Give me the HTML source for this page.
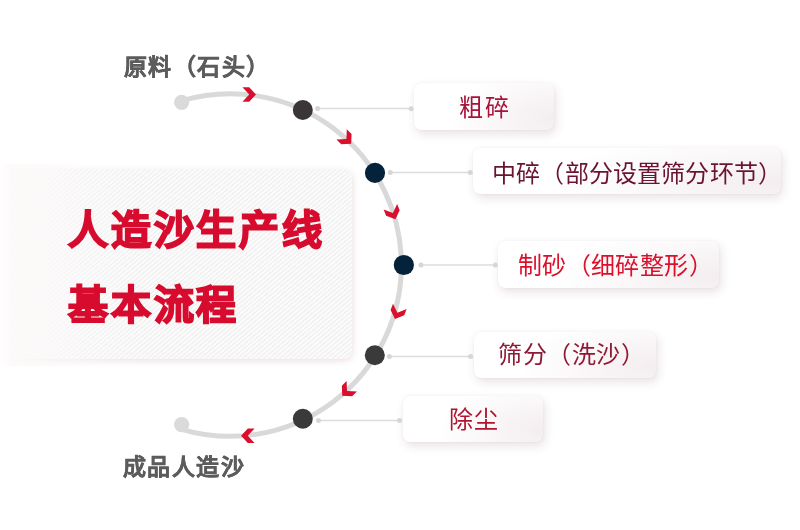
<!DOCTYPE html>
<html lang="zh-CN">
<head>
<meta charset="utf-8">
<style>
html,body{margin:0;padding:0;background:#fff;}
body{width:800px;height:530px;position:relative;overflow:hidden;font-family:"Liberation Sans",sans-serif;}
.abs{position:absolute;}
.t{will-change:transform;}
.gray{color:#5c5c5c;font-weight:bold;font-size:23px;line-height:1;white-space:nowrap;-webkit-text-stroke:0.35px #5c5c5c;letter-spacing:1.45px;}
.tbox{left:-20px;top:169px;width:372px;height:190px;border-radius:9px;
  background:repeating-linear-gradient(-40deg,#fbfafa 0px,#fbfafa 2.0px,#f0efef 2.4px,#f0efef 3.0px,#fbfafa 3.4px);
  box-shadow:1px 2px 6px rgba(150,90,100,0.18);}
.tfade{left:0;top:164px;width:140px;height:202px;background:linear-gradient(90deg,#fff 0%,rgba(253,250,250,0.95) 8%,rgba(252,249,249,0.75) 30%,rgba(252,250,250,0.35) 60%,rgba(255,255,255,0) 100%);}
.title{color:#d60b2d;font-weight:900;font-size:40px;line-height:1;white-space:nowrap;-webkit-text-stroke:1.8px #d60b2d;letter-spacing:2.8px;}
.lbox{border-radius:7px;background:#fff;
  background:radial-gradient(ellipse 75% 110% at 100% 75%,#f3edef 0%,rgba(255,255,255,0) 100%),#fff;
  box-shadow:2px 4px 10px rgba(110,60,70,0.15),0 0 2px rgba(120,80,90,0.08);}
.ltxt{font-size:24px;line-height:1;white-space:nowrap;}
svg{position:absolute;left:0;top:0;}
</style>
</head>
<body>
<div class="abs gray t" style="left:124px;top:56px;">原料（石头）</div>
<div class="abs gray t" style="left:123px;top:456px;">成品人造沙</div>

<div class="abs tbox"></div>
<div class="abs tfade"></div>
<div class="abs title t" style="left:68px;top:210px;">人造沙生产线</div>
<div class="abs title t" style="left:68px;top:285px;">基本流程</div>

<div class="abs lbox" style="left:414px;top:83px;width:140px;height:47px;"></div>
<div class="abs lbox" style="left:473px;top:148px;width:308px;height:46px;"></div>
<div class="abs lbox" style="left:498px;top:241px;width:221px;height:47px;"></div>
<div class="abs lbox" style="left:474px;top:332px;width:182px;height:46px;"></div>
<div class="abs lbox" style="left:403px;top:396px;width:140px;height:46px;"></div>

<div class="abs ltxt t" style="left:459px;top:96px;letter-spacing:1.8px;color:#a8133a;">粗碎</div>
<div class="abs ltxt t" style="left:492px;top:162px;letter-spacing:0.18px;color:#6a1431;">中碎（部分设置筛分环节）</div>
<div class="abs ltxt t" style="left:518px;top:254px;letter-spacing:0.37px;color:#dc0f2b;">制砂（细碎整形）</div>
<div class="abs ltxt t" style="left:498px;top:343px;letter-spacing:0.6px;color:#901a35;">筛分（洗沙）</div>
<div class="abs ltxt t" style="left:449px;top:408px;letter-spacing:1px;color:#b01530;">除尘</div>

<svg width="800" height="530" viewBox="0 0 800 530">
  <!-- arc -->
  <path d="M181.6,100.71 A171.3,171.3 0 1 1 181.6,429.29" fill="none" stroke="#d9d9d9" stroke-width="5"/>
  <circle cx="181.6" cy="102.3" r="7.6" fill="#dadada"/>
  <circle cx="181.6" cy="424.6" r="7.6" fill="#dadada"/>
  <!-- connectors -->
  <g stroke="#dcdcdc" stroke-width="1.5" fill="#d6d6d6">
    <line x1="317.6" y1="108.6" x2="411.1" y2="108.6"/>
    <line x1="390.3" y1="172.6" x2="470.3" y2="172.6"/>
    <line x1="421" y1="265.1" x2="495.4" y2="265.1"/>
    <line x1="389.4" y1="356.5" x2="470.6" y2="356.5"/>
    <line x1="318.5" y1="420.5" x2="399.6" y2="420.5"/>
  </g>
  <g fill="#d6d6d6">
    <circle cx="317.6" cy="108.6" r="2.5"/><circle cx="411.1" cy="108.7" r="2.5"/>
    <circle cx="390.3" cy="172.6" r="2.5"/><circle cx="470.3" cy="172.6" r="2.5"/>
    <circle cx="421" cy="265.1" r="2.5"/><circle cx="495.4" cy="265.1" r="2.5"/>
    <circle cx="389.4" cy="356.5" r="2.5"/><circle cx="470.6" cy="356.5" r="2.5"/>
    <circle cx="318.5" cy="420.5" r="2.5"/><circle cx="399.6" cy="420.5" r="2.5"/>
  </g>
  <!-- dots -->
  <circle cx="302.8" cy="110" r="10" fill="#3a3637"/>
  <circle cx="375" cy="172.8" r="10.1" fill="#04223a"/>
  <circle cx="403.85" cy="265" r="10.1" fill="#04223a"/>
  <circle cx="374.8" cy="355.3" r="10" fill="#3a3a3b"/>
  <circle cx="302.8" cy="418.8" r="10" fill="#3a3a3b"/>
  <!-- chevrons -->
  <path d="M-6.75,-7.3 L0,-7.3 L6.75,0 L0,7.3 L-6.75,7.3 L0,0 Z" fill="#d8102e" transform="translate(249.2,94.5) rotate(0)"/>
  <path d="M-6.75,-7.3 L0,-7.3 L6.75,0 L0,7.3 L-6.75,7.3 L0,0 Z" fill="#d8102e" transform="translate(346.4,139.1) rotate(45)"/>
  <path d="M-6.75,-7.3 L0,-7.3 L6.75,0 L0,7.3 L-6.75,7.3 L0,0 Z" fill="#d8102e" transform="translate(392.9,212.9) rotate(68)"/>
  <path d="M-6.75,-7.3 L0,-7.3 L6.75,0 L0,7.3 L-6.75,7.3 L0,0 Z" fill="#d8102e" transform="translate(397.4,312.7) rotate(111)"/>
  <path d="M-6.75,-7.3 L0,-7.3 L6.75,0 L0,7.3 L-6.75,7.3 L0,0 Z" fill="#d8102e" transform="translate(347,391) rotate(135)"/>
  <path d="M-6.75,-7.3 L0,-7.3 L6.75,0 L0,7.3 L-6.75,7.3 L0,0 Z" fill="#d8102e" transform="translate(247.8,435.8) rotate(180)"/>
</svg>
</body>
</html>
